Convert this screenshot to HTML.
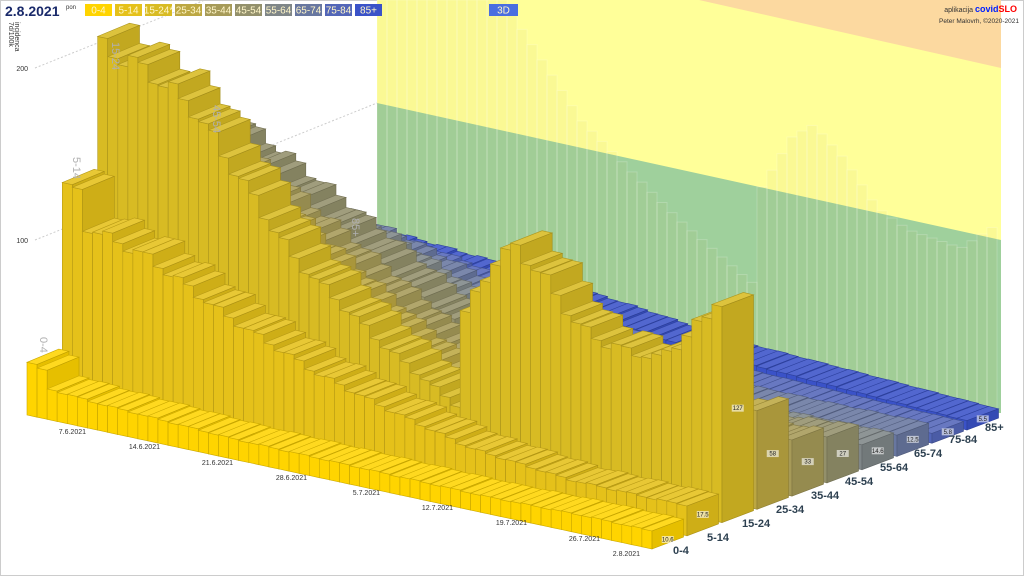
<!DOCTYPE html>
<html><head><meta charset="utf-8"><style>
html,body{margin:0;padding:0;background:#fff;}
body{width:1024px;height:576px;overflow:hidden;position:relative;font-family:"Liberation Sans",sans-serif;}
svg{position:absolute;left:0;top:0;}
.lg{font-size:10px;fill:#fff6c8;text-anchor:middle;}
.dt{font-size:7px;fill:#333;text-anchor:end;}
.ag{font-size:11px;fill:#2d4050;font-weight:bold;}
.rl{font-size:11px;fill:#b0b0b0;}
.vl{font-size:6px;fill:#222;text-anchor:middle;}
</style></head><body>
<svg id="s" width="1024" height="576" viewBox="0 0 1024 576">
<rect x="0.5" y="0.5" width="1023" height="575" fill="#fff" stroke="#ccc"/>
<polygon points="377,0 1001,0 1001,413 377,413" fill="#ffff99"/>
<polygon points="699,0 1001,0 1001,68" fill="#fcd9a0"/>
<polygon points="377,103 1001,240 1001,413 377,413" fill="#9fd09c"/>
<g id="ghost"></g>
<line x1="35" y1="68" x2="205" y2="0" stroke="#ccc" stroke-dasharray="2,2"/>
<line x1="35" y1="240" x2="377" y2="103" stroke="#ccc" stroke-dasharray="2,2"/>
<g id="bars"></g>
<text x="28" y="71" font-size="7" fill="#333" text-anchor="end">200</text>
<text x="28" y="243" font-size="7" fill="#333" text-anchor="end">100</text>
<text transform="translate(9,22) rotate(90)" font-size="7" fill="#333">7d/100k</text>
<text transform="translate(15,22) rotate(90)" font-size="7" fill="#333">incidenca</text>
<text x="5" y="16" font-size="14" font-weight="bold" fill="#1a2a6a">2.8.2021</text>
<text x="66" y="9" font-size="6" fill="#333">pon</text>
<rect x="85" y="4" width="27" height="12" fill="#ffd400"/><text class="lg" x="98.5" y="13.5">0-4</text>
<rect x="115" y="4" width="27" height="12" fill="#e5c11a"/><text class="lg" x="128.5" y="13.5">5-14</text>
<rect x="145" y="4" width="27" height="12" fill="#d8bb23"/><text class="lg" x="158.5" y="13.5">15-24*</text>
<rect x="175" y="4" width="27" height="12" fill="#bca742"/><text class="lg" x="188.5" y="13.5">25-34</text>
<rect x="205" y="4" width="27" height="12" fill="#a69a58"/><text class="lg" x="218.5" y="13.5">35-44</text>
<rect x="235" y="4" width="27" height="12" fill="#93906b"/><text class="lg" x="248.5" y="13.5">45-54</text>
<rect x="265" y="4" width="27" height="12" fill="#7f8688"/><text class="lg" x="278.5" y="13.5">55-64</text>
<rect x="295" y="4" width="27" height="12" fill="#6877a0"/><text class="lg" x="308.5" y="13.5">65-74</text>
<rect x="325" y="4" width="27" height="12" fill="#5366b8"/><text class="lg" x="338.5" y="13.5">75-84</text>
<rect x="355" y="4" width="27" height="12" fill="#3a52c8"/><text class="lg" x="368.5" y="13.5">85+</text>
<rect x="489" y="4" width="29" height="12" fill="#4a6ee0"/><text class="lg" x="503.5" y="13.5">3D</text>
<text x="1017" y="12" font-size="7" fill="#333" text-anchor="end">aplikacija <tspan fill="#0020ff" font-weight="bold" font-size="9">covid</tspan><tspan fill="#ff0000" font-weight="bold" font-size="9">SLO</tspan></text>
<text x="1019" y="23" font-size="6.5" fill="#333" text-anchor="end">Peter Malovrh, ©2020-2021</text>
<text class="dt" x="86" y="434">7.6.2021</text>
<text class="dt" x="160" y="449">14.6.2021</text>
<text class="dt" x="233" y="465">21.6.2021</text>
<text class="dt" x="307" y="480">28.6.2021</text>
<text class="dt" x="380" y="495">5.7.2021</text>
<text class="dt" x="453" y="510">12.7.2021</text>
<text class="dt" x="527" y="525">19.7.2021</text>
<text class="dt" x="600" y="541">26.7.2021</text>
<text class="dt" x="640" y="556">2.8.2021</text>
<text class="ag" x="673" y="554">0-4</text>
<text class="ag" x="707" y="541">5-14</text>
<text class="ag" x="742" y="527">15-24</text>
<text class="ag" x="776" y="513">25-34</text>
<text class="ag" x="811" y="499">35-44</text>
<text class="ag" x="845" y="485">45-54</text>
<text class="ag" x="880" y="471">55-64</text>
<text class="ag" x="914" y="457">65-74</text>
<text class="ag" x="949" y="443">75-84</text>
<text class="ag" x="985" y="431">85+</text>
<text class="rl" transform="translate(40,337) rotate(90)">0-4</text>
<text class="rl" transform="translate(73,157) rotate(90)">5-14</text>
<text class="rl" transform="translate(112,42) rotate(90)">15-24</text>
<text class="rl" transform="translate(213,105) rotate(90)">45-54</text>
<text class="rl" transform="translate(352,218) rotate(90)">85+</text>
</svg>
<script>
(function(){
var NS="http://www.w3.org/2000/svg";
var N=62;
var P00=[27,415],P0N=[652,549],P9N=[967,430],P90=[345,283];
function P(r,d){var u=d/N,v=r/9;
 var x=(1-u)*(1-v)*P00[0]+u*(1-v)*P0N[0]+u*v*P9N[0]+(1-u)*v*P90[0];
 var y=(1-u)*(1-v)*P00[1]+u*(1-v)*P0N[1]+u*v*P9N[1]+(1-u)*v*P90[1];
 return [x,y,1.7];}
function lerp(pts,d){for(var i=0;i<pts.length-1;i++){if(d<=pts[i+1][0]){var t=(d-pts[i][0])/(pts[i+1][0]-pts[i][0]);return pts[i][1]+t*(pts[i+1][1]-pts[i][1]);}}return pts[pts.length-1][1];}
var shapes=[
 [[0,31],[1,28],[2,18],[6,16],[20,12],[45,10],[55,11],[61,10.6]],
 [[0,125],[1.9,125],[2,105],[8,95],[16,70],[25,48],[32,36],[40,24],[50,18],[61,17.5]],
 [[0,200],[5,190],[9,175],[19,100],[28,60],[35,35],[35.9,35],[36,90],[39,125],[41,135],[44,120],[47,98],[50,90],[55,88],[58,105],[61,127]],
 [[0,150],[10,115],[25,55],[35,25],[45,35],[55,45],[61,58]],
 [[0,135],[10,100],[25,45],[35,18],[50,25],[61,33]],
 [[0,125],[10,92],[25,42],[35,15],[50,20],[61,27]],
 [[0,85],[10,68],[25,30],[35,12],[50,13],[61,14.6]],
 [[0,62],[10,50],[25,25],[35,10],[50,11],[61,12.5]],
 [[0,40],[10,33],[25,18],[35,7],[50,6],[61,5.8]],
 [[0,25],[10,22],[25,15],[35,9],[50,7],[61,5.5]]];
var cols=["#ffd400","#e5c11a","#d8bb23","#bca742","#a69a58","#93906b","#7f8688","#6877a0","#5366b8","#3a52c8"];
function shade(c,f){var n=parseInt(c.slice(1),16);var r=n>>16,g=(n>>8)&255,b=n&255;
 function m(v){v=f>1?v+(255-v)*(f-1):v*f;return Math.max(0,Math.min(255,Math.round(v)));}
 return "rgb("+m(r)+","+m(g)+","+m(b)+")";}
var g=document.getElementById("bars");
function poly(pts,fill,st){var p=document.createElementNS(NS,"polygon");
 p.setAttribute("points",pts.map(function(q){return q[0].toFixed(1)+","+q[1].toFixed(1);}).join(" "));
 p.setAttribute("fill",fill);p.setAttribute("stroke",st);p.setAttribute("stroke-width","0.6");g.appendChild(p);return p;}
var gh=document.getElementById("ghost");
var s2=shapes[2];
for(var i=0;i<63;i++){var x=377+i*10;if(x>995)break;var v=lerp(s2,i*0.95);var top=240+(x-377)*0.28-v*1.75;
 var tp=Math.max(0,top);
 var rr=document.createElementNS(NS,"rect");rr.setAttribute("x",x);rr.setAttribute("y",tp);rr.setAttribute("width",10);rr.setAttribute("height",Math.max(0,413-tp));
 rr.setAttribute("fill","rgba(190,180,90,0.08)");rr.setAttribute("stroke","rgba(255,255,255,0.2)");gh.appendChild(rr);}
for(var r=9;r>=0;r--){
 var c=cols[r];
 for(var d=0;d<N;d++){
  var h=lerp(shapes[r],d)*(1+0.03*Math.sin(d*1.7+r));
  if(d==N-1)h=shapes[r][shapes[r].length-1][1];
  var A=P(r,d),B=P(r,d+1),C=P(r+0.9,d+1),D=P(r+0.9,d);
  function t(q){return [q[0],q[1]-h*q[2]];}
  var At=t(A),Bt=t(B),Ct=t(C),Dt=t(D);
  poly([A,B,Bt,At],c,shade(c,0.8));
  poly([At,Bt,Ct,Dt],shade(c,1.12),shade(c,0.8));
  poly([B,C,Ct,Bt],shade(c,0.9),shade(c,0.75));
  if(d==N-1){
   var lab=["10.6","17.5","127","58","33","27","14.6","12.5","5.8","5.5"][r];
   var cx=(B[0]+C[0])/2,cy=(B[1]+C[1]+Bt[1]+Ct[1])/4;
   if(r==0)cy=(B[1]+Bt[1])/2;
   var bg=document.createElementNS(NS,"rect");bg.setAttribute("x",cx-6);bg.setAttribute("y",cy-4);bg.setAttribute("width",12);bg.setAttribute("height",7);bg.setAttribute("fill","rgba(255,255,255,0.6)");g.appendChild(bg);
   var tx=document.createElementNS(NS,"text");tx.setAttribute("x",cx);tx.setAttribute("y",cy+1.5);tx.setAttribute("class","vl");tx.textContent=lab;g.appendChild(tx);
  }
 }
}
})();
</script>
</body></html>
